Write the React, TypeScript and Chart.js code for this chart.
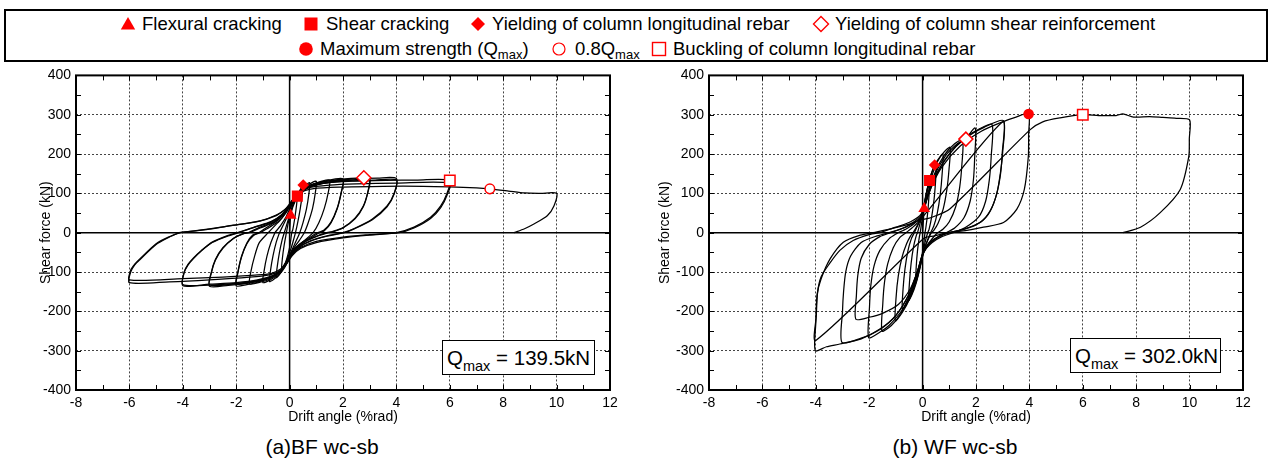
import React, { useEffect, useRef } from "react";
import { Chart, registerables } from "chart.js";

Chart.register(...registerables);

type Pt = [number, number];

const FONT = "'Liberation Sans', Arial, Helvetica, sans-serif";

// ---------- axis ticks ----------
const xTickValues = [-8, -6, -4, -2, 0, 2, 4, 6, 8, 10, 12];
const yTickValues = [-400, -300, -200, -100, 0, 100, 200, 300, 400];

// ---------- (a) BF wc-sb : hysteresis cycles ----------
const bfCycle1: Pt[] = [[0,0],[0.02,25],[0.04,44],[0.12,65],[0.22,82],[0.29,93],[0.26,70],[0.2,40],[0.12,8],[0.08,0],[0.02,-30],[-0.06,-55],[-0.15,-75],[-0.25,-88],[-0.3,-93],[-0.27,-65],[-0.2,-30],[-0.12,0]];
const bfCycle2: Pt[] = [[-0.12,0],[-0.05,25],[0.02,45],[0.1,65],[0.2,82],[0.3,95],[0.4,110],[0.51,121],[0.47,95],[0.4,62],[0.31,28],[0.22,0],[0.12,-25],[0.03,-45],[-0.08,-65],[-0.2,-85],[-0.35,-103],[-0.5,-114],[-0.46,-85],[-0.38,-50],[-0.28,-18],[-0.2,0]];
const bfCycle3: Pt[] = [[-0.2,0],[-0.1,22],[0,45],[0.12,70],[0.28,95],[0.5,115],[0.75,127],[0.72,98],[0.63,60],[0.5,25],[0.38,0],[0.25,-20],[0.1,-42],[-0.03,-62],[-0.18,-88],[-0.4,-108],[-0.58,-118],[-0.75,-124],[-0.71,-94],[-0.62,-58],[-0.5,-24],[-0.38,0]];
const bfCycle4: Pt[] = [[-0.38,0],[-0.22,22],[-0.06,45],[0.08,70],[0.3,98],[0.55,116],[0.78,125],[1.0,131],[0.96,100],[0.86,62],[0.7,26],[0.55,0],[0.36,-20],[0.15,-40],[0,-58],[-0.18,-85],[-0.42,-106],[-0.7,-119],[-1.0,-127],[-0.95,-95],[-0.85,-60],[-0.7,-25],[-0.55,0]];
const bfCycle5: Pt[] = [[-0.55,0],[-0.32,20],[-0.12,42],[0.04,66],[0.25,94],[0.52,112],[0.85,123],[1.15,130],[1.5,134],[1.44,100],[1.3,62],[1.1,26],[0.88,0],[0.6,-17],[0.3,-34],[0.06,-54],[-0.14,-80],[-0.4,-102],[-0.72,-117],[-1.1,-126],[-1.5,-130],[-1.44,-96],[-1.32,-62],[-1.14,-26],[-0.8,0]];
const bfCycle6: Pt[] = [[-0.8,0],[-0.55,18],[-0.3,36],[-0.08,58],[0.12,84],[0.4,106],[0.8,121],[1.3,131],[2.0,137],[1.93,102],[1.78,62],[1.55,27],[1.28,6],[1.05,0],[0.75,-12],[0.4,-28],[0.12,-46],[-0.08,-70],[-0.32,-96],[-0.7,-114],[-1.2,-126],[-1.6,-132],[-2.0,-135],[-1.93,-100],[-1.8,-62],[-1.6,-28],[-1.35,-7],[-1.1,0]];
const bfCycle7: Pt[] = [[-1.1,0],[-0.75,14],[-0.4,30],[-0.12,52],[0.08,76],[0.35,100],[0.8,117],[1.4,127],[2.0,132],[1.93,100],[1.78,60],[1.55,25],[1.3,5],[1.12,0],[0.8,-13],[0.42,-30],[0.12,-48],[-0.1,-73],[-0.38,-99],[-0.8,-115],[-1.3,-124],[-2.0,-129],[-1.93,-97],[-1.8,-60],[-1.6,-26],[-1.38,-6],[-1.15,0]];
const bfCycle8: Pt[] = [[-1.15,0],[-0.8,16],[-0.42,33],[-0.12,56],[0.08,80],[0.38,104],[0.9,123],[1.6,133],[2.3,138],[2.78,139.5],[3.0,139],[2.93,104],[2.76,68],[2.45,37],[2.0,13],[1.6,3],[1.4,0],[1.0,-9],[0.55,-22],[0.2,-40],[0,-60],[-0.18,-84],[-0.45,-104],[-0.9,-119],[-1.6,-129],[-2.3,-134],[-3.0,-136],[-2.93,-102],[-2.78,-70],[-2.5,-40],[-2.1,-15],[-1.75,-3],[-1.5,0]];
const bfCycle9: Pt[] = [[-1.5,0],[-1.1,12],[-0.6,26],[-0.25,45],[0,68],[0.25,94],[0.7,116],[1.4,128],[2.2,133],[3.0,135],[2.93,102],[2.76,66],[2.45,35],[2.0,12],[1.6,2],[1.45,0],[1.0,-10],[0.55,-24],[0.2,-42],[-0.02,-64],[-0.22,-90],[-0.6,-110],[-1.2,-123],[-2.0,-130],[-3.0,-133],[-2.93,-100],[-2.78,-68],[-2.5,-38],[-2.1,-14],[-1.75,-3],[-1.55,0]];
const bfCycle10: Pt[] = [[-1.55,0],[-1.1,14],[-0.6,28],[-0.25,47],[0,70],[0.25,96],[0.7,118],[1.4,131],[2.5,137],[3.3,139],[4.0,138],[3.92,101],[3.65,68],[3.1,35],[2.4,10],[2.0,0],[1.4,-8],[0.8,-20],[0.35,-36],[0.05,-58],[-0.18,-85],[-0.55,-107],[-1.1,-120],[-2.0,-129],[-3.0,-133],[-4.0,-132],[-3.95,-100],[-3.8,-80],[-3.6,-64],[-3.3,-45],[-2.9,-24],[-2.3,-7],[-1.95,0]];
const bfCycle11: Pt[] = [[-1.95,0],[-1.3,14],[-0.7,27],[-0.3,45],[-0.02,68],[0.22,93],[0.65,114],[1.3,126],[2.4,132],[3.2,134],[4.0,134],[3.92,99],[3.65,66],[3.1,33],[2.4,9],[2.05,0],[1.4,-9],[0.8,-21],[0.35,-38],[0.05,-60],[-0.2,-88],[-0.6,-108],[-1.2,-120],[-2.0,-127],[-3.0,-131],[-4.0,-135],[-3.95,-102],[-3.8,-82],[-3.6,-66],[-3.3,-46],[-2.9,-25],[-2.3,-8],[-1.9,0]];
const bfCycle12: Pt[] = [[-1.9,0],[-1.3,15],[-0.7,28],[-0.3,46],[0,70],[0.25,96],[0.7,117],[1.4,127],[2.4,131],[3.6,133],[4.8,134],[6.0,133],[5.9,101],[5.66,68],[5.28,39],[4.66,14],[4.0,0],[3.0,-5],[2.0,-11],[1.0,-22],[0.4,-38],[0.1,-55],[-0.12,-76],[-0.35,-93],[-0.7,-104],[-1.3,-108],[-2.5,-113],[-4.0,-117],[-6.0,-120],[-5.95,-95],[-5.8,-80],[-5.6,-66],[-5.0,-28],[-4.5,-10],[-4.1,0]];
const bfCycle13: Pt[] = [[-4.1,0],[-3.0,9],[-2.1,19],[-1.2,28],[-0.55,42],[-0.2,58],[0,72],[0.25,97],[0.7,114],[1.5,121],[2.5,124],[4.0,126],[6.0,126],[5.9,96],[5.66,64],[5.28,36],[4.66,12],[4.1,0],[3.0,-6],[2.0,-13],[1.0,-25],[0.41,-40],[0.1,-58],[-0.12,-80],[-0.35,-97],[-0.75,-107],[-1.5,-113],[-3.0,-120],[-4.5,-125],[-6.0,-127],[-5.95,-100],[-5.8,-82],[-5.6,-68],[-5.0,-30],[-4.5,-11],[-4.15,0]];
const bfFinal: Pt[] = [[-4.15,0],[-3.0,10],[-2.0,20],[-1.1,30],[-0.5,45],[-0.15,60],[0.05,78],[0.35,100],[0.9,112],[2.0,116],[3.5,118],[5.0,118],[6.0,116.5],[7.0,114],[7.5,111.5],[8.2,106],[8.8,101],[9.4,100],[10.0,100],[9.9,68],[9.65,43],[9.15,22],[8.8,10],[8.4,0]];

// BF markers
const bfFlexuralCracking: Pt = [0.04, 44];
const bfShearCracking: Pt = [0.29, 93];
const bfYieldLongRebar: Pt = [0.51, 121];
const bfYieldShearReinf: Pt = [2.78, 139.5];
const bfBuckling: Pt = [6.0, 133];
const bfPointEightQmax: Pt = [7.5, 111.5];

// ---------- (b) WF wc-sb : hysteresis cycles ----------
const wfCycle1: Pt[] = [[0,0],[0.03,30],[0.06,61],[0.15,100],[0.26,133],[0.24,95],[0.19,50],[0.12,12],[0.09,0],[0.03,-35],[-0.05,-68],[-0.15,-100],[-0.26,-128],[-0.24,-88],[-0.19,-45],[-0.12,-10],[-0.09,0]];
const wfCycle2: Pt[] = [[-0.09,0],[-0.03,28],[0.04,60],[0.14,100],[0.28,140],[0.45,172],[0.52,180],[0.49,135],[0.43,85],[0.34,40],[0.24,8],[0.19,0],[0.09,-25],[0,-55],[-0.1,-90],[-0.25,-130],[-0.4,-158],[-0.52,-172],[-0.49,-125],[-0.43,-78],[-0.34,-36],[-0.24,-8],[-0.19,0]];
const wfCycle3: Pt[] = [[-0.19,0],[-0.09,25],[0,50],[0.12,95],[0.3,145],[0.52,180],[0.76,200],[0.73,148],[0.66,97],[0.55,50],[0.42,17],[0.3,0],[0.18,-20],[0.05,-45],[-0.06,-78],[-0.22,-120],[-0.42,-158],[-0.6,-182],[-0.76,-195],[-0.73,-142],[-0.66,-92],[-0.55,-46],[-0.42,-15],[-0.31,0]];
const wfCycle4: Pt[] = [[-0.31,0],[-0.16,22],[-0.02,45],[0.1,85],[0.3,135],[0.55,180],[0.8,205],[1.03,217],[0.99,162],[0.91,110],[0.77,60],[0.58,24],[0.42,6],[0.33,0],[0.2,-18],[0.05,-42],[-0.08,-75],[-0.26,-122],[-0.5,-170],[-0.76,-203],[-1.02,-224],[-0.99,-162],[-0.91,-110],[-0.77,-62],[-0.6,-28],[-0.45,-8],[-0.36,0]];
const wfCycle5: Pt[] = [[-0.36,0],[-0.2,18],[-0.05,38],[0.06,62],[0.22,105],[0.48,155],[0.82,198],[1.2,226],[1.5,236],[1.47,172],[1.39,116],[1.24,66],[1.0,28],[0.75,8],[0.56,0],[0.35,-16],[0.1,-38],[-0.05,-66],[-0.22,-108],[-0.48,-158],[-0.82,-206],[-1.17,-236],[-1.52,-250],[-1.49,-180],[-1.43,-128],[-1.31,-80],[-1.1,-38],[-0.85,-12],[-0.62,0]];
const wfCycle6: Pt[] = [[-0.62,0],[-0.4,12],[-0.15,28],[0.02,50],[0.15,85],[0.42,142],[0.85,195],[1.3,226],[1.62,240],[1.97,266],[1.95,190],[1.9,132],[1.78,80],[1.55,38],[1.2,12],[0.88,0],[0.56,-12],[0.26,-28],[0.05,-50],[-0.1,-86],[-0.36,-142],[-0.76,-196],[-1.26,-236],[-1.62,-254],[-2.02,-267],[-1.99,-190],[-1.94,-135],[-1.82,-85],[-1.6,-45],[-1.25,-15],[-0.92,0]];
const wfCycle7: Pt[] = [[-0.92,0],[-0.6,10],[-0.3,24],[-0.02,45],[0.2,92],[0.52,148],[1.02,202],[1.6,242],[2.1,263],[2.6,275],[2.57,195],[2.5,135],[2.36,80],[2.1,40],[1.6,13],[1.15,0],[0.72,-10],[0.36,-25],[0.06,-48],[-0.14,-88],[-0.44,-140],[-0.9,-182],[-1.5,-205],[-2.0,-215],[-2.5,-220],[-2.48,-160],[-2.43,-110],[-2.3,-65],[-2.0,-30],[-1.6,-10],[-1.2,0]];
const wfCycle8: Pt[] = [[-1.2,0],[-0.8,10],[-0.4,24],[-0.05,45],[0.15,85],[0.45,140],[0.95,196],[1.6,240],[2.3,268],[3.03,285],[3.0,205],[2.92,155],[2.78,100],[2.55,58],[2.2,28],[1.55,9],[1.0,0],[0.6,-10],[0.25,-28],[0,-55],[-0.2,-100],[-0.5,-155],[-1.0,-210],[-1.6,-246],[-2.3,-268],[-3.02,-279],[-3.0,-200],[-2.96,-150],[-2.88,-100],[-2.7,-60],[-2.3,-25],[-1.7,-8],[-1.25,0]];
const wfCycle9: Pt[] = [[-1.25,0],[-0.7,12],[-0.25,28],[0,40],[3.0,282],[2.98,200],[2.9,140],[2.72,86],[2.45,46],[2.0,20],[1.4,6],[0.9,0],[0.45,-8],[0.05,-14],[-4.0,-274],[-3.98,-210],[-3.93,-150],[-3.8,-112],[-3.5,-80],[-3.1,-45],[-2.6,-20],[-2.0,-5],[-1.6,0]];
const wfCycle10: Pt[] = [[-1.6,0],[-1.0,14],[-0.45,28],[-0.05,48],[0.25,105],[0.7,165],[1.4,220],[2.2,258],[3.0,282],[3.5,294],[3.97,302],[3.97,250],[3.96,194],[3.81,110],[3.53,60],[3.03,26],[2.28,14],[1.6,5],[1.03,0],[0.6,-10],[0.25,-26],[0,-55],[-0.2,-100],[-0.5,-155],[-1.0,-210],[-1.6,-245],[-2.3,-270],[-3.1,-283],[-3.6,-290],[-4.02,-300],[-4.0,-230],[-3.95,-157],[-3.8,-117],[-3.46,-66],[-2.97,-24],[-2.33,-6],[-1.85,0]];
const wfFinal: Pt[] = [[-1.85,0],[-1.2,10],[-0.5,22],[-0.1,32],[0.3,38],[1.03,61],[4.03,262],[4.5,282],[5.15,292],[6.0,300],[6.6,298],[7.25,298],[7.5,302],[7.9,294],[8.5,295],[9.0,293],[9.5,291],[10.0,287],[9.99,240],[9.97,194],[9.65,110],[8.9,51],[8.16,14],[7.5,0]];

// WF markers
const wfFlexuralCracking: Pt = [0.06, 61];
const wfShearCracking: Pt = [0.26, 133];
const wfYieldLongRebar: Pt = [0.45, 172];
const wfYieldShearReinf: Pt = [1.62, 238];
const wfMaxStrength: Pt = [3.97, 302];
const wfBuckling: Pt = [6.0, 300];

const bfCycles = [bfCycle1, bfCycle2, bfCycle3, bfCycle4, bfCycle5, bfCycle6, bfCycle7, bfCycle8, bfCycle9, bfCycle10, bfCycle11, bfCycle12, bfCycle13, bfFinal];
const wfCycles = [wfCycle1, wfCycle2, wfCycle3, wfCycle4, wfCycle5, wfCycle6, wfCycle7, wfCycle8, wfCycle9, wfCycle10, wfFinal];

// ---------- marker styles ----------
type MarkerKind = "flex" | "shear" | "yieldLong" | "yieldShear" | "qmax" | "q08" | "buckling";
const RED = "#ff0000";
const markerStyle: Record<MarkerKind, { pointStyle: string; radius: number; filled: boolean }> = {
  flex: { pointStyle: "triangle", radius: 6.8, filled: true },
  shear: { pointStyle: "rect", radius: 7.8, filled: true },
  yieldLong: { pointStyle: "rectRot", radius: 5.8, filled: true },
  yieldShear: { pointStyle: "rectRot", radius: 7, filled: false },
  qmax: { pointStyle: "circle", radius: 5.3, filled: true },
  q08: { pointStyle: "circle", radius: 4.8, filled: false },
  buckling: { pointStyle: "rect", radius: 7.4, filled: false },
};

const bfMarkers: [MarkerKind, Pt][] = [
  ["flex", bfFlexuralCracking],
  ["shear", bfShearCracking],
  ["yieldLong", bfYieldLongRebar],
  ["yieldShear", bfYieldShearReinf],
  ["buckling", bfBuckling],
  ["q08", bfPointEightQmax],
];
const wfMarkers: [MarkerKind, Pt][] = [
  ["flex", wfFlexuralCracking],
  ["shear", wfShearCracking],
  ["yieldLong", wfYieldLongRebar],
  ["yieldShear", wfYieldShearReinf],
  ["qmax", wfMaxStrength],
  ["buckling", wfBuckling],
];

const decorPlugin = {
  id: "decor",
  beforeDatasetsDraw(chart: any) {
    const { ctx, chartArea: a, scales } = chart;
    const xs = scales.x;
    const ys = scales.y;
    ctx.save();
    ctx.strokeStyle = "#000";
    ctx.lineWidth = 1.5;
    const px0 = xs.getPixelForValue(0);
    const py0 = ys.getPixelForValue(0);
    ctx.beginPath();
    ctx.moveTo(px0, a.top);
    ctx.lineTo(px0, a.bottom);
    ctx.moveTo(a.left, py0);
    ctx.lineTo(a.right, py0);
    ctx.stroke();
    ctx.restore();
  },
  afterDatasetsDraw(chart: any) {
    const { ctx, chartArea: a, scales } = chart;
    const xs = scales.x;
    const ys = scales.y;
    ctx.save();
    ctx.strokeStyle = "#000";
    ctx.lineWidth = 1;
    ctx.beginPath();
    for (let v = xs.min; v <= xs.max; v += 1) {
      const p = Math.round(xs.getPixelForValue(v)) + 0.5;
      ctx.moveTo(p, a.top);
      ctx.lineTo(p, a.top + 5);
      ctx.moveTo(p, a.bottom);
      ctx.lineTo(p, a.bottom - 5);
    }
    for (let v = ys.min; v <= ys.max; v += 50) {
      const p = Math.round(ys.getPixelForValue(v)) + 0.5;
      ctx.moveTo(a.left, p);
      ctx.lineTo(a.left + 5, p);
      ctx.moveTo(a.right, p);
      ctx.lineTo(a.right - 5, p);
    }
    ctx.stroke();
    ctx.lineWidth = 2;
    ctx.strokeRect(a.left, a.top, a.right - a.left, a.bottom - a.top);
    ctx.restore();
  },
};

interface ChartProps {
  cycles: Pt[][];
  markers: [MarkerKind, Pt][];
  left: number;
  width: number;
  yAxisWidth: number;
  padRight: number;
  yTitleOffset: number;
}

const CANVAS_TOP = 62;
const CANVAS_H = 370;

function HysteresisChart({ cycles, markers, left, width, yAxisWidth, padRight, yTitleOffset }: ChartProps) {
  const ref = useRef<HTMLCanvasElement>(null);
  useEffect(() => {
    if (!ref.current) return;
    Chart.defaults.font.family = FONT;
    Chart.defaults.color = "#000";
    const markerSets = markers.map(([kind, pt]) => {
      const st = markerStyle[kind];
      return {
        data: [{ x: pt[0], y: pt[1] }],
        showLine: false,
        pointStyle: st.pointStyle,
        pointRadius: st.radius,
        pointBackgroundColor: st.filled ? RED : "#ffffff",
        pointBorderColor: RED,
        pointBorderWidth: st.filled ? 0 : 1.5,
      };
    });
    const lineSets = cycles.map((c) => ({
      data: c.map(([x, y]) => ({ x, y })),
      showLine: true,
      borderColor: "#000",
      borderWidth: 1.25,
      pointRadius: 0,
      tension: 0.25,
      fill: false,
    }));
    const chart = new Chart(ref.current, {
      type: "scatter",
      data: { datasets: [...markerSets, ...lineSets] as any },
      options: {
        animation: false,
        responsive: false,
        devicePixelRatio: 1,
        events: [],
        layout: { padding: { left: 0, right: padRight, top: 9, bottom: 0 } },
        plugins: { legend: { display: false }, tooltip: { enabled: false }, title: { display: false } },
        scales: {
          x: {
            type: "linear",
            min: -8,
            max: 12,
            afterBuildTicks: (s: any) => {
              s.ticks = xTickValues.map((v) => ({ value: v }));
            },
            afterFit: (s: any) => {
              s.height = 42;
            },
            grid: { color: "#444", lineWidth: 1, drawTicks: false },
            border: { display: false, dash: [2, 2] },
            ticks: { padding: 5, font: { size: 14 }, color: "#000", maxRotation: 0, autoSkip: false, callback: (v: any) => String(v) },
            title: { display: true, text: "Drift angle (%rad)", font: { size: 14 }, color: "#000", padding: { top: 0, bottom: 6 } },
          },
          y: {
            type: "linear",
            min: -400,
            max: 400,
            afterBuildTicks: (s: any) => {
              s.ticks = yTickValues.map((v) => ({ value: v }));
            },
            afterFit: (s: any) => {
              s.width = yAxisWidth;
            },
            grid: { color: "#444", lineWidth: 1, drawTicks: false },
            border: { display: false, dash: [2, 2] },
            ticks: { padding: 5, font: { size: 14 }, color: "#000", autoSkip: false, callback: (v: any) => String(v) },
            title: { display: true, text: "Shear force (kN)", font: { size: 14 }, color: "#000", padding: { top: yTitleOffset - 8.4, bottom: 0 } },
          },
        },
      } as any,
      plugins: [decorPlugin],
    });
    return () => chart.destroy();
  }, []);
  return (
    <canvas
      ref={ref}
      width={width}
      height={CANVAS_H}
      style={{ position: "absolute", left, top: CANVAS_TOP, width, height: CANVAS_H }}
    />
  );
}

function LegendMarker({ kind }: { kind: MarkerKind }) {
  const common = { width: 18, height: 18, viewBox: "0 0 18 18" };
  let shape: React.ReactNode = null;
  if (kind === "flex") shape = <polygon points="9,2 16.2,14.5 1.8,14.5" fill={RED} />;
  if (kind === "shear") shape = <rect x="2.5" y="2.5" width="13" height="13" fill={RED} />;
  if (kind === "yieldLong") shape = <polygon points="9,2 16,9 9,16 2,9" fill={RED} />;
  if (kind === "yieldShear") shape = <polygon points="9,1.5 16.5,9 9,16.5 1.5,9" fill="#fff" stroke={RED} strokeWidth={1.4} />;
  if (kind === "qmax") shape = <circle cx="9" cy="9" r="6.8" fill={RED} />;
  if (kind === "q08") shape = <circle cx="9" cy="9" r="6" fill="#fff" stroke={RED} strokeWidth={1.2} />;
  if (kind === "buckling") shape = <rect x="2.5" y="2.5" width="13" height="13" fill="#fff" stroke={RED} strokeWidth={1.4} />;
  return <svg {...common}>{shape}</svg>;
}

function LegendItem({ kind, cx, cy, textLeft, children }: { kind: MarkerKind; cx: number; cy: number; textLeft: number; children: React.ReactNode }) {
  return (
    <>
      <div style={{ position: "absolute", left: cx - 9, top: cy - 9, width: 18, height: 18 }}>
        <LegendMarker kind={kind} />
      </div>
      <div style={{ position: "absolute", left: textLeft, top: cy - 11, height: 22, lineHeight: "22px", fontSize: 18.5, whiteSpace: "nowrap" }}>
        {children}
      </div>
    </>
  );
}

const subStyle: React.CSSProperties = { fontSize: 13, position: "relative", top: 4 };

function QmaxBox({ left, top, width, value }: { left: number; top: number; width: number; value: string }) {
  return (
    <div
      style={{
        position: "absolute",
        left,
        top,
        width,
        height: 35,
        boxSizing: "border-box",
        border: "1px solid #000",
        background: "#fff",
        paddingLeft: 4,
        fontSize: 20.5,
        lineHeight: "33px",
        whiteSpace: "nowrap",
      }}
    >
      Q<span style={{ fontSize: 14.5, position: "relative", top: 6 }}>max</span> = {value}
    </div>
  );
}

export default function App() {
  return (
    <div style={{ position: "absolute", left: 0, top: 0, width: 1271, height: 461, background: "#fff", overflow: "hidden", fontFamily: FONT, color: "#000" }}>
      <div style={{ position: "absolute", left: 4, top: 9, width: 1264, height: 53, border: "2px solid #000", boxSizing: "border-box" }} />
      <LegendItem kind="flex" cx={128} cy={24} textLeft={142}>Flexural cracking</LegendItem>
      <LegendItem kind="shear" cx={311} cy={24} textLeft={326}>Shear cracking</LegendItem>
      <LegendItem kind="yieldLong" cx={478} cy={24} textLeft={492}>Yielding of column longitudinal rebar</LegendItem>
      <LegendItem kind="yieldShear" cx={821} cy={24} textLeft={835}>Yielding of column shear reinforcement</LegendItem>
      <LegendItem kind="qmax" cx={306} cy={49} textLeft={320}>
        Maximum strength (Q<span style={subStyle}>max</span>)
      </LegendItem>
      <LegendItem kind="q08" cx={559} cy={49} textLeft={575}>
        0.8Q<span style={subStyle}>max</span>
      </LegendItem>
      <LegendItem kind="buckling" cx={659} cy={49} textLeft={673}>Buckling of column longitudinal rebar</LegendItem>

      <HysteresisChart cycles={bfCycles} markers={bfMarkers} left={0} width={640} yAxisWidth={76} padRight={30} yTitleOffset={46} />
      <HysteresisChart cycles={wfCycles} markers={wfMarkers} left={640} width={631} yAxisWidth={69} padRight={28} yTitleOffset={25} />

      <QmaxBox left={442} top={340} width={153} value="139.5kN" />
      <QmaxBox left={1070} top={338} width={151} value="302.0kN" />

      <div style={{ position: "absolute", left: 322, top: 434, transform: "translateX(-50%)", fontSize: 21, lineHeight: "26px", whiteSpace: "nowrap" }}>(a)BF wc-sb</div>
      <div style={{ position: "absolute", left: 955, top: 434, transform: "translateX(-50%)", fontSize: 21, lineHeight: "26px", whiteSpace: "nowrap" }}>(b) WF wc-sb</div>
    </div>
  );
}
